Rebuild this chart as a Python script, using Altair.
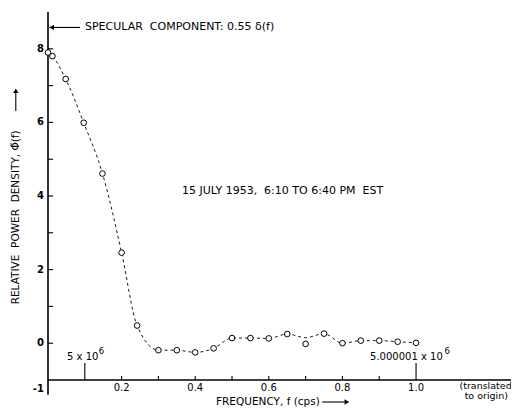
import altair as alt
import pandas as pd

# ---- data ----
freq = [0.0, 0.012, 0.048, 0.097, 0.148, 0.20, 0.242, 0.30, 0.35, 0.40, 0.45,
        0.50, 0.55, 0.60, 0.65, 0.70, 0.75, 0.80, 0.85, 0.90, 0.95, 1.00]
density = [7.9, 7.8, 7.18, 5.99, 4.61, 2.46, 0.48, -0.19, -0.19, -0.25, -0.14,
           0.14, 0.14, 0.13, 0.25, -0.02, 0.26, 0.0, 0.07, 0.07, 0.04, 0.01]
curve = [7.9, 7.8, 7.18, 5.99, 4.61, 2.46, 0.48, -0.19, -0.19, -0.25, -0.14,
         0.14, 0.14, 0.13, 0.25, 0.15, 0.26, 0.0, 0.07, 0.07, 0.04, 0.01]

x_ticks = [0.1, 0.2, 0.3, 0.4, 0.5, 0.6, 0.7, 0.8, 0.9, 1.0]
x_tick_top = [-0.54, -0.89, -0.89, -0.89, -0.89, -0.89, -0.89, -0.89, -0.89, -0.54]
x_label_pos = [0.2, 0.4, 0.6, 0.8, 1.0]
x_labels = ["0.2", "0.4", "0.6", "0.8", "1.0"]
y_ticks = [0, 1, 2, 3, 4, 5, 6, 7, 8]
y_label_pos = [-1.245, 0, 2, 4, 6, 8]
y_labels = ["-1", "0", "2", "4", "6", "8"]

NB = "\u00a0"
specular_text = "SPECULAR" + NB + " COMPONENT: 0.55 \u03b4(f)"
date_text = "15 JULY 1953," + NB + " 6:10 TO 6:40 PM" + NB + " EST"
marker_texts = ["5 x 10", "5.000001 x 10"]
marker_exps = ["6", "6"]
y_title = "RELATIVE" + NB + " POWER" + NB + " DENSITY, \u03a6\u0303(f)"
x_title = "FREQUENCY, f (cps)"
note_lines = ["(translated", "to origin)"]

X_MAX = 1.258
Y_MIN, Y_MAX = -1.0, 9.0
FONT = "DejaVu Sans"

xs = alt.Scale(domain=[0, X_MAX], nice=False, zero=False)
ys = alt.Scale(domain=[Y_MIN, Y_MAX], nice=False, zero=False)


def X(field="x"):
    return alt.X(f"{field}:Q", scale=xs, axis=None)


def Y(field="y"):
    return alt.Y(f"{field}:Q", scale=ys, axis=None)


data = pd.DataFrame({"x": freq, "y": density, "c": curve})

# axis lines
yaxis_line = alt.Chart(pd.DataFrame({"x": [0.0], "y": [-1.4], "y2": [9.0]})).mark_rule(
    color="black", strokeWidth=1.6).encode(x=X(), y=Y(), y2="y2:Q")
xaxis_line = alt.Chart(pd.DataFrame({"x": [0.0], "x2": [X_MAX], "y": [-1.0]})).mark_rule(
    color="black", strokeWidth=1.6).encode(x=X(), x2="x2:Q", y=Y())

# ticks
xt = alt.Chart(pd.DataFrame({"x": x_ticks, "y": [-1.0] * len(x_ticks), "y2": x_tick_top})).mark_rule(
    color="black", strokeWidth=1.1).encode(x=X(), y=Y(), y2="y2:Q")
yt = alt.Chart(pd.DataFrame({"x": [0.0] * len(y_ticks), "x2": [0.014] * len(y_ticks), "y": y_ticks})).mark_rule(
    color="black", strokeWidth=1.1).encode(x=X(), x2="x2:Q", y=Y())

# tick labels
xl = alt.Chart(pd.DataFrame({"x": x_label_pos, "y": [-1.217] * len(x_label_pos), "t": x_labels})).mark_text(
    font=FONT, fontSize=10, align="center", baseline="middle", color="black").encode(x=X(), y=Y(), text="t:N")
yl = alt.Chart(pd.DataFrame({"x": [-0.011] * len(y_labels), "y": y_label_pos, "t": y_labels})).mark_text(
    font=FONT, fontSize=10, align="right", baseline="middle", color="black", fontWeight="bold").encode(
    x=X(), y=Y(), text="t:N")

# curve and points
line = alt.Chart(data).mark_line(color="black", strokeWidth=0.9, strokeDash=[3, 3],
                                 interpolate="monotone").encode(x=X(), y=Y("c"))
pts = alt.Chart(data).mark_point(shape="circle", filled=True, fill="white", stroke="black",
                                 strokeWidth=1, size=32, opacity=1).encode(x=X(), y=Y())

# annotations
ann = alt.Chart(pd.DataFrame({
    "x": [0.1005, 0.364],
    "y": [8.58, 4.14],
    "t": [specular_text, date_text],
})).mark_text(font=FONT, fontSize=11, align="left", baseline="middle", color="black").encode(
    x=X(), y=Y(), text="t:N")
marks_txt = alt.Chart(pd.DataFrame({"x": [0.0516, 0.875], "y": [-0.37, -0.37], "t": marker_texts})).mark_text(
    font=FONT, fontSize=10, align="left", baseline="middle", color="black").encode(x=X(), y=Y(), text="t:N")
sup = alt.Chart(pd.DataFrame({"x": [0.138, 1.077], "y": [-0.2, -0.2], "t": marker_exps})).mark_text(
    font=FONT, fontSize=8.5, align="left", baseline="middle", color="black").encode(x=X(), y=Y(), text="t:N")
trans = alt.Chart(pd.DataFrame({"x": [1.118, 1.132], "y": [-1.16, -1.44],
                                "t": note_lines})).mark_text(
    font=FONT, fontSize=9.5, align="left", baseline="middle", color="black").encode(x=X(), y=Y(), text="t:N")

# titles
xtitle = alt.Chart(pd.DataFrame({"x": [0.4565], "y": [-1.598], "t": [x_title]})).mark_text(
    font=FONT, fontSize=10.5, align="left", baseline="middle", color="black").encode(x=X(), y=Y(), text="t:N")
ytitle = alt.Chart(pd.DataFrame({"x": [-0.0875], "y": [3.42], "t": [y_title]})).mark_text(
    font=FONT, fontSize=10.5, align="center", baseline="middle", angle=270, color="black").encode(
    x=X(), y=Y(), text="t:N")

# arrows (shafts + heads)
shafts_h = alt.Chart(pd.DataFrame({"x": [0.004, 0.745], "x2": [0.087, 0.812], "y": [8.58, -1.598]})).mark_rule(
    color="black", strokeWidth=1.1).encode(x=X(), x2="x2:Q", y=Y())
shaft_v = alt.Chart(pd.DataFrame({"x": [-0.0875], "y": [6.31], "y2": [6.86]})).mark_rule(
    color="black", strokeWidth=1.1).encode(x=X(), y=Y(), y2="y2:Q")
head_l = alt.Chart(pd.DataFrame({"x": [0.010], "y": [8.58]})).mark_point(
    shape="triangle-left", filled=True, color="black", size=28, opacity=1).encode(x=X(), y=Y())
head_r = alt.Chart(pd.DataFrame({"x": [0.812], "y": [-1.598]})).mark_point(
    shape="triangle-right", filled=True, color="black", size=28, opacity=1).encode(x=X(), y=Y())
head_u = alt.Chart(pd.DataFrame({"x": [-0.0875], "y": [6.86]})).mark_point(
    shape="triangle-up", filled=True, color="black", size=28, opacity=1).encode(x=X(), y=Y())

chart = alt.layer(
    yaxis_line, xaxis_line, xt, yt, xl, yl, line, pts, ann, marks_txt, sup, trans, xtitle, ytitle,
    shafts_h, shaft_v, head_l, head_r, head_u
).properties(
    width=463, height=368,
    autosize=alt.AutoSizeParams(type="none"),
    padding={"left": 40, "top": 4, "right": 0, "bottom": 29},
    background="white",
).configure_view(stroke=None)

chart.save("out.html", embed_options={"renderer": "svg", "actions": False})
